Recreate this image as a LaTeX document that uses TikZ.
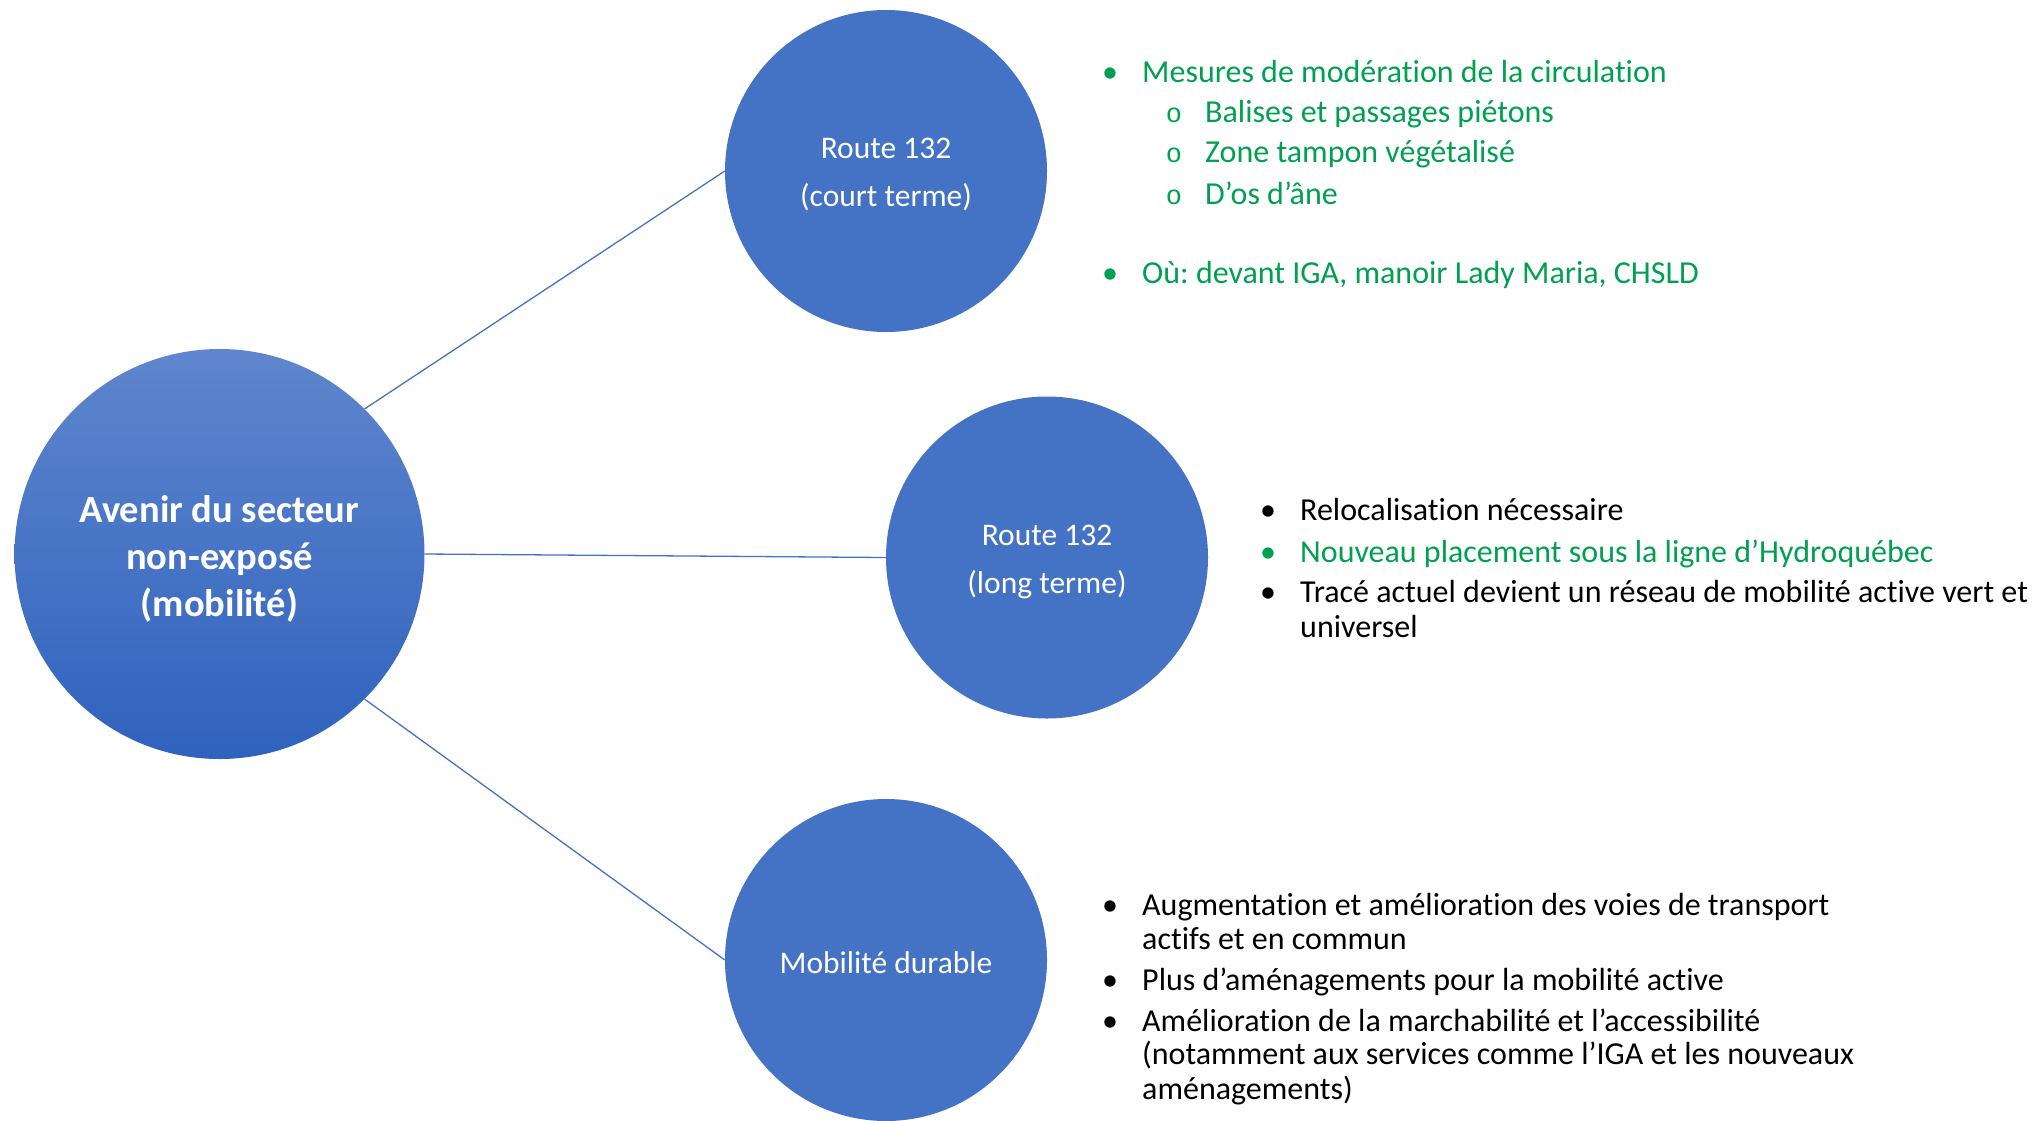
\documentclass[tikz,border=0pt]{standalone}
\usepackage{fontspec}
\setmainfont[Ligatures=NoCommon]{Carlito}
\newfontfamily\monofnt{Liberation Mono}
\definecolor{cblue}{HTML}{4472C4}
\definecolor{ctop}{HTML}{5F86CD}
\definecolor{cbot}{HTML}{2F62BE}
\definecolor{cgreen}{HTML}{00A050}
\frenchspacing
\begin{document}
\begin{tikzpicture}[x=1pt,y=1pt]
\tikzset{
  subcirc/.style={circle, fill=cblue, minimum size=322pt, inner sep=0pt},
  circtxt/.style={text=white, align=center, inner sep=0pt, font=\fontsize{31.5}{48}\selectfont},
  link/.style={draw=cblue, line width=1.3pt},
  itemtxt/.style={anchor=base west, inner sep=0pt, font=\fontsize{32}{38}\selectfont},
  bul/.style={anchor=base, inner sep=0pt, font=\fontsize{32}{38}\selectfont},
  subbul/.style={anchor=base, inner sep=0pt, font=\monofnt\fontsize{27}{34}\selectfont},
}
\useasboundingbox (0,0) rectangle (2036,-1120);
\node[circle, minimum size=410pt, inner sep=0pt, top color=ctop, bottom color=cbot] (main) at (219.5,-554) {};
\node[text=white, align=center, inner sep=0pt, font=\bfseries\fontsize{38.5}{47}\selectfont] (maintxt) at ([yshift=-5pt]main.center) {Avenir du secteur\\non-exposé\\(mobilité)};
\node[subcirc] (c1) at (886,-171) {};
\node[circtxt] (c1txt) at ([yshift=-3pt]c1.center) {Route 132\\(court terme)};
\node[subcirc] (c2) at (1047,-557.5) {};
\node[circtxt] (c2txt) at ([yshift=-4pt]c2.center) {Route 132\\(long terme)};
\node[subcirc] (c3) at (886,-960) {};
\node[circtxt] (c3txt) at ([yshift=-3pt]c3.center) {Mobilité durable};
\draw[link] (main.45) -- (c1.west);
\draw[link] (main.east) -- (c2.west);
\draw[link] (main.-45) -- (c3.west);
% list 1
\begin{scope}[text=cgreen]
\node[bul] (b11) at (1110,-82) {•};
\node[itemtxt] (t11) at (1142,-82) {Mesures de modération de la circulation};
\node[subbul] (s11) at (1174,-122) {o};
\node[itemtxt] (u11) at (1205,-122) {Balises et passages piétons};
\node[subbul] (s12) at (1174,-162) {o};
\node[itemtxt] (u12) at (1205,-162) {Zone tampon végétalisé};
\node[subbul] (s13) at (1174,-204) {o};
\node[itemtxt] (u13) at (1205,-204) {D’os d’âne};
\node[bul] (b12) at (1110,-283) {•};
\node[itemtxt] (t12) at (1142,-283) {Où: devant IGA, manoir Lady Maria, CHSLD};
\end{scope}
% list 2
\node[bul] (b21) at (1268,-520) {•};
\node[itemtxt] (t21) at (1300,-520) {Relocalisation nécessaire};
\node[bul, text=cgreen] (b22) at (1268,-562) {•};
\node[itemtxt, text=cgreen] (t22) at (1300,-562) {Nouveau placement sous la ligne d’Hydroquébec};
\node[bul] (b23) at (1268,-602) {•};
\node[itemtxt] (t23) at (1300,-602) {Tracé actuel devient un réseau de mobilité active vert et};
\node[itemtxt] (t24) at (1300,-637) {universel};
% list 3
\node[bul] (b31) at (1110,-915) {•};
\node[itemtxt] (t31) at (1142,-915) {Augmentation et amélioration des voies de transport};
\node[itemtxt] (t32) at (1142,-949) {actifs et en commun};
\node[bul] (b33) at (1110,-990) {•};
\node[itemtxt] (t33) at (1142,-990) {Plus d’aménagements pour la mobilité active};
\node[bul] (b34) at (1110,-1031) {•};
\node[itemtxt] (t34) at (1142,-1031) {Amélioration de la marchabilité et l’accessibilité};
\node[itemtxt] (t35) at (1142,-1064) {(notamment aux services comme l’IGA et les nouveaux};
\node[itemtxt] (t36) at (1142,-1099) {aménagements)};
\end{tikzpicture}
\end{document}
